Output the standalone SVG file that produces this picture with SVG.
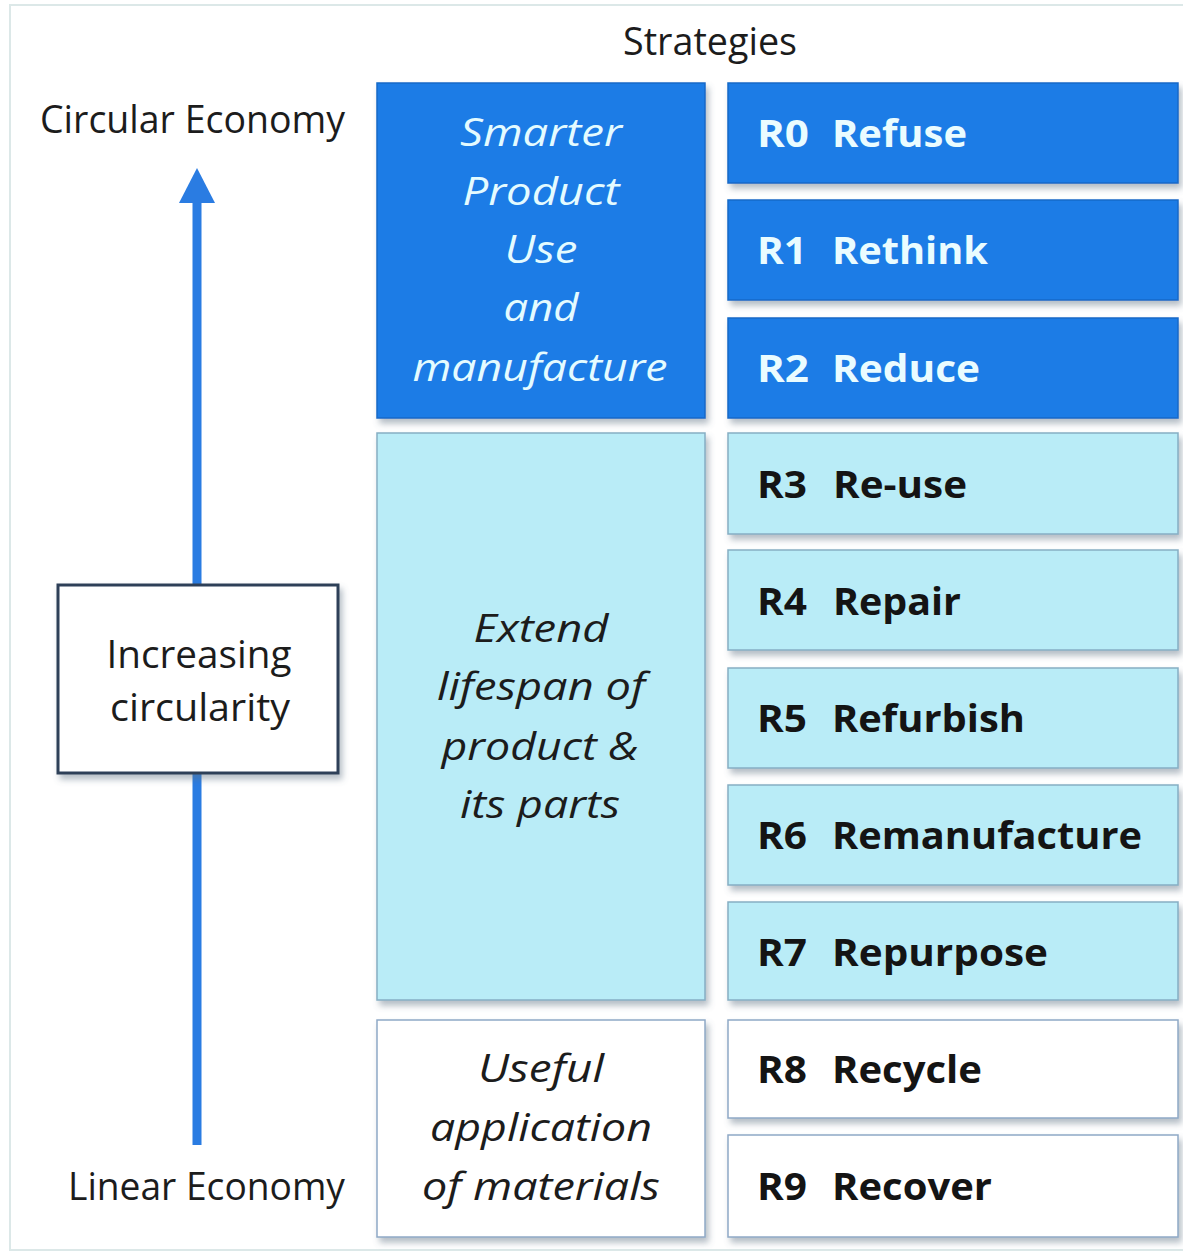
<svg xmlns="http://www.w3.org/2000/svg" width="1183" height="1253" viewBox="0 0 1183 1253">
<defs>
<filter id="sh" x="-10%" y="-10%" width="125%" height="130%">
<feDropShadow dx="3" dy="5" stdDeviation="3" flood-color="#5a6f80" flood-opacity="0.45"/>
</filter>
<style>
.reg{font-family:"Open Sans","Liberation Sans",sans-serif;font-size:38px;fill:#1c1c1c}
.it{font-family:"Open Sans","Liberation Sans",sans-serif;font-size:38px;font-style:italic;text-anchor:middle;fill:#1c1c1c}
.itw{fill:#e4fbff}
.b{font-family:"Open Sans","Liberation Sans",sans-serif;font-size:37px;font-weight:bold;fill:#141414}
.bw{fill:#eafcff}
.dark{fill:#1b7ce6;stroke:#1669c8;stroke-width:1.5}
.light{fill:#b9ecf7;stroke:#86aec4;stroke-width:1.5}
.white{fill:#ffffff;stroke:#8fa9c6;stroke-width:1.5}
</style>
</defs>
<rect x="0" y="0" width="1183" height="1253" fill="#ffffff"/>
<rect x="10" y="5" width="1185" height="1245" fill="none" stroke="#dce8e8" stroke-width="2"/>

<text class="reg" x="710" y="55" text-anchor="middle" font-size="34" textLength="174" lengthAdjust="spacingAndGlyphs">Strategies</text>
<text class="reg" x="40" y="133" textLength="305" lengthAdjust="spacingAndGlyphs">Circular Economy</text>
<text class="reg" x="68" y="1200" textLength="277" lengthAdjust="spacingAndGlyphs">Linear Economy</text>

<g id="connectors">
<line x1="197" y1="198" x2="197" y2="1145" stroke="#2a7ce2" stroke-width="9"/>
<polygon points="197,168 179,203 215,203" fill="#2a7ce2"/>
</g>

<g id="increasing">
<rect x="58" y="585" width="280" height="188" fill="#ffffff" stroke="#2d3f58" stroke-width="3" filter="url(#sh)"/>
<text class="reg" x="199" y="668" text-anchor="middle" textLength="185" lengthAdjust="spacingAndGlyphs">Increasing</text>
<text class="reg" x="200" y="721" text-anchor="middle" textLength="180" lengthAdjust="spacingAndGlyphs">circularity</text>
</g>

<g id="smarter">
<rect class="dark" x="377" y="83" width="328" height="335" filter="url(#sh)"/>
<text class="it itw" x="541" y="146" textLength="162" lengthAdjust="spacingAndGlyphs">Smarter</text>
<text class="it itw" x="541" y="205" textLength="157" lengthAdjust="spacingAndGlyphs">Product</text>
<text class="it itw" x="541" y="263" textLength="73" lengthAdjust="spacingAndGlyphs">Use</text>
<text class="it itw" x="541" y="321" textLength="75" lengthAdjust="spacingAndGlyphs">and</text>
<text class="it itw" x="540" y="381" textLength="255" lengthAdjust="spacingAndGlyphs">manufacture</text>
</g>

<g id="extend">
<rect class="light" x="377" y="433" width="328" height="567" filter="url(#sh)"/>
<text class="it" x="541" y="642" textLength="135" lengthAdjust="spacingAndGlyphs">Extend</text>
<text class="it" x="541" y="700" textLength="208" lengthAdjust="spacingAndGlyphs">lifespan of</text>
<text class="it" x="540" y="760" textLength="197" lengthAdjust="spacingAndGlyphs">product &amp;</text>
<text class="it" x="540" y="818" textLength="160" lengthAdjust="spacingAndGlyphs">its parts</text>
</g>

<g id="useful">
<rect class="white" x="377" y="1020" width="328" height="217" filter="url(#sh)"/>
<text class="it" x="541" y="1082" textLength="126" lengthAdjust="spacingAndGlyphs">Useful</text>
<text class="it" x="541" y="1141" textLength="222" lengthAdjust="spacingAndGlyphs">application</text>
<text class="it" x="541" y="1200" textLength="238" lengthAdjust="spacingAndGlyphs">of materials</text>
</g>

<g id="r0">
<rect class="dark" x="728" y="83" width="450" height="100" filter="url(#sh)"/>
<text class="b bw" x="757" y="147" textLength="52" lengthAdjust="spacingAndGlyphs">R0</text>
<text class="b bw" x="832" y="147" textLength="135" lengthAdjust="spacingAndGlyphs">Refuse</text>
</g>
<g id="r1">
<rect class="dark" x="728" y="200" width="450" height="100" filter="url(#sh)"/>
<text class="b bw" x="757" y="264" textLength="50" lengthAdjust="spacingAndGlyphs">R1</text>
<text class="b bw" x="832" y="264" textLength="156" lengthAdjust="spacingAndGlyphs">Rethink</text>
</g>
<g id="r2">
<rect class="dark" x="728" y="318" width="450" height="100" filter="url(#sh)"/>
<text class="b bw" x="757" y="382" textLength="52" lengthAdjust="spacingAndGlyphs">R2</text>
<text class="b bw" x="832" y="382" textLength="148" lengthAdjust="spacingAndGlyphs">Reduce</text>
</g>
<g id="r3">
<rect class="light" x="728" y="433" width="450" height="101" filter="url(#sh)"/>
<text class="b" x="757" y="498" textLength="50" lengthAdjust="spacingAndGlyphs">R3</text>
<text class="b" x="833" y="498" textLength="134" lengthAdjust="spacingAndGlyphs">Re-use</text>
</g>
<g id="r4">
<rect class="light" x="728" y="550" width="450" height="100" filter="url(#sh)"/>
<text class="b" x="757" y="615" textLength="50" lengthAdjust="spacingAndGlyphs">R4</text>
<text class="b" x="833" y="615" textLength="128" lengthAdjust="spacingAndGlyphs">Repair</text>
</g>
<g id="r5">
<rect class="light" x="728" y="668" width="450" height="100" filter="url(#sh)"/>
<text class="b" x="757" y="732" textLength="50" lengthAdjust="spacingAndGlyphs">R5</text>
<text class="b" x="832" y="732" textLength="193" lengthAdjust="spacingAndGlyphs">Refurbish</text>
</g>
<g id="r6">
<rect class="light" x="728" y="785" width="450" height="100" filter="url(#sh)"/>
<text class="b" x="757" y="849" textLength="50" lengthAdjust="spacingAndGlyphs">R6</text>
<text class="b" x="832" y="849" textLength="310" lengthAdjust="spacingAndGlyphs">Remanufacture</text>
</g>
<g id="r7">
<rect class="light" x="728" y="902" width="450" height="98" filter="url(#sh)"/>
<text class="b" x="757" y="966" textLength="50" lengthAdjust="spacingAndGlyphs">R7</text>
<text class="b" x="832" y="966" textLength="216" lengthAdjust="spacingAndGlyphs">Repurpose</text>
</g>
<g id="r8">
<rect class="white" x="728" y="1020" width="450" height="98" filter="url(#sh)"/>
<text class="b" x="757" y="1083" textLength="50" lengthAdjust="spacingAndGlyphs">R8</text>
<text class="b" x="832" y="1083" textLength="150" lengthAdjust="spacingAndGlyphs">Recycle</text>
</g>
<g id="r9">
<rect class="white" x="728" y="1135" width="450" height="102" filter="url(#sh)"/>
<text class="b" x="757" y="1200" textLength="50" lengthAdjust="spacingAndGlyphs">R9</text>
<text class="b" x="832" y="1200" textLength="160" lengthAdjust="spacingAndGlyphs">Recover</text>
</g>
</svg>
